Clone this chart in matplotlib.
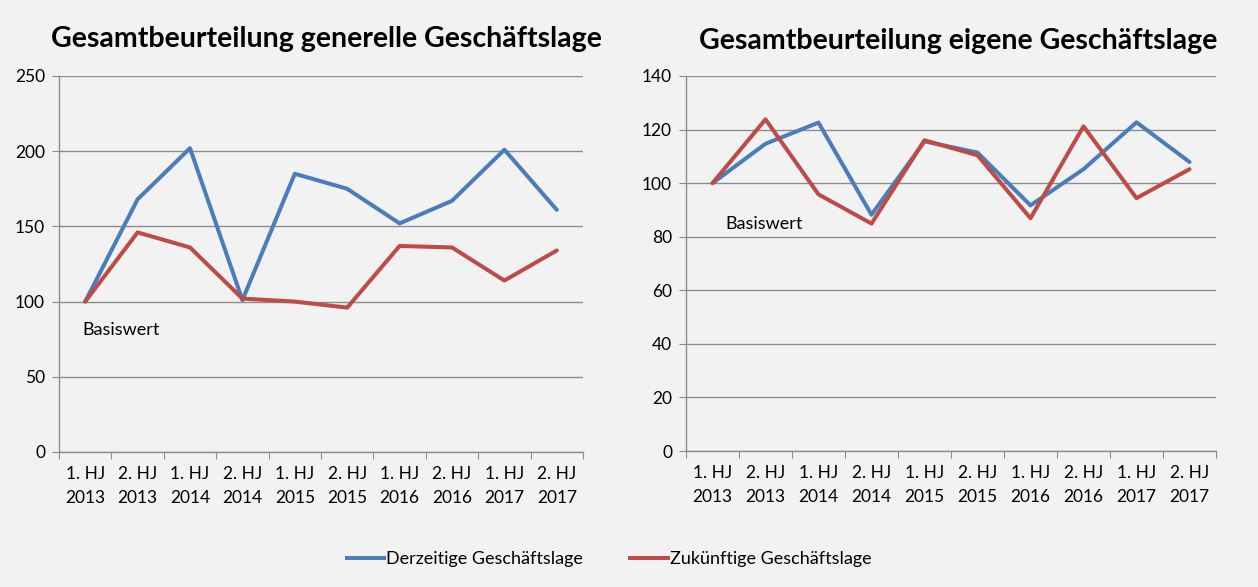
import matplotlib
matplotlib.use("Agg")
import matplotlib.pyplot as plt
from matplotlib.lines import Line2D
import numpy as np

categories = ["1. HJ\n2013", "2. HJ\n2013", "1. HJ\n2014", "2. HJ\n2014", "1. HJ\n2015",
              "2. HJ\n2015", "1. HJ\n2016", "2. HJ\n2016", "1. HJ\n2017", "2. HJ\n2017"]

gen_derzeit = [100, 168, 202, 101, 185, 175, 152, 167, 201, 161]
gen_zukunft = [100, 146, 136, 102, 100, 96, 137, 136, 114, 134]

eig_derzeit = [100, 114.7, 122.6, 88.2, 115.6, 111.4, 91.7, 105.2, 122.7, 107.9]
eig_zukunft = [100, 123.8, 95.8, 84.9, 116, 110.4, 86.9, 121.2, 94.4, 105.2]

title_left = "Gesamtbeurteilung generelle Geschäftslage"
title_right = "Gesamtbeurteilung eigene Geschäftslage"
series_names = ["Derzeitige Geschäftslage", "Zukünftige Geschäftslage"]

BLUE = "#4a7ebb"
RED = "#be4b48"
GRID = "#8c8c8c"
BG = "#f2f2f2"
FONT = ["Lato", "DejaVu Sans"]

plt.rcParams['font.family'] = FONT

W, H = 1258, 587
fig = plt.figure(figsize=(W / 100, H / 100), dpi=100, facecolor=BG)


def make_ax(left, right, top, bottom, ymax, ystep, d1, d2, title, tx, ty, bx, by):
    ax = fig.add_axes([left / W, 1 - bottom / H, (right - left) / W, (bottom - top) / H])
    ax.set_facecolor(BG)
    x = np.arange(len(categories))
    ax.plot(x, d1, color=BLUE, lw=2.9, solid_capstyle='round', zorder=3)
    ax.plot(x, d2, color=RED, lw=2.9, solid_capstyle='round', zorder=3)
    ax.set_xlim(-0.5, len(categories) - 0.5)
    ax.set_ylim(0, ymax)
    ax.set_yticks(np.arange(0, ymax + 1, ystep))
    ax.yaxis.grid(True, color=GRID, lw=1.0)
    ax.set_axisbelow(True)
    ax.set_xticks(np.arange(-0.5, len(categories), 1.0))
    ax.set_xticklabels([])
    ax.set_xticks(x, minor=True)
    ax.set_xticklabels(categories, minor=True, fontsize=12.5, linespacing=1.6)
    ax.tick_params(axis='x', which='minor', length=0, pad=10)
    ax.tick_params(axis='x', which='major', length=5, color=GRID, direction='out')
    ax.tick_params(axis='y', length=5, color=GRID, labelsize=12.5, pad=5)
    for s in ['top', 'right']:
        ax.spines[s].set_visible(False)
    for s in ['left', 'bottom']:
        ax.spines[s].set_color(GRID)
        ax.spines[s].set_linewidth(1.0)
    fig.text(tx / W, 1 - ty / H, title, fontsize=20.5, fontweight='bold',
             ha='center', va='center')
    fig.text(bx / W, 1 - by / H, "Basiswert", fontsize=13, ha='left', va='center')
    return ax


make_ax(59, 583, 76, 452, 250, 50, gen_derzeit, gen_zukunft, title_left, 326, 39, 82, 330)
make_ax(686, 1216, 76, 451, 140, 20, eig_derzeit, eig_zukunft, title_right, 958, 41, 725, 224)

handles = [Line2D([], [], color=BLUE, lw=2.9), Line2D([], [], color=RED, lw=2.9)]
fig.legend(handles, series_names, loc='center', bbox_to_anchor=(609 / W, 1 - 559 / H),
           ncol=2, frameon=False, fontsize=13, handlelength=2.1, handletextpad=0.1,
           columnspacing=2.6)

fig.savefig("out.png", dpi=100, facecolor=BG)
